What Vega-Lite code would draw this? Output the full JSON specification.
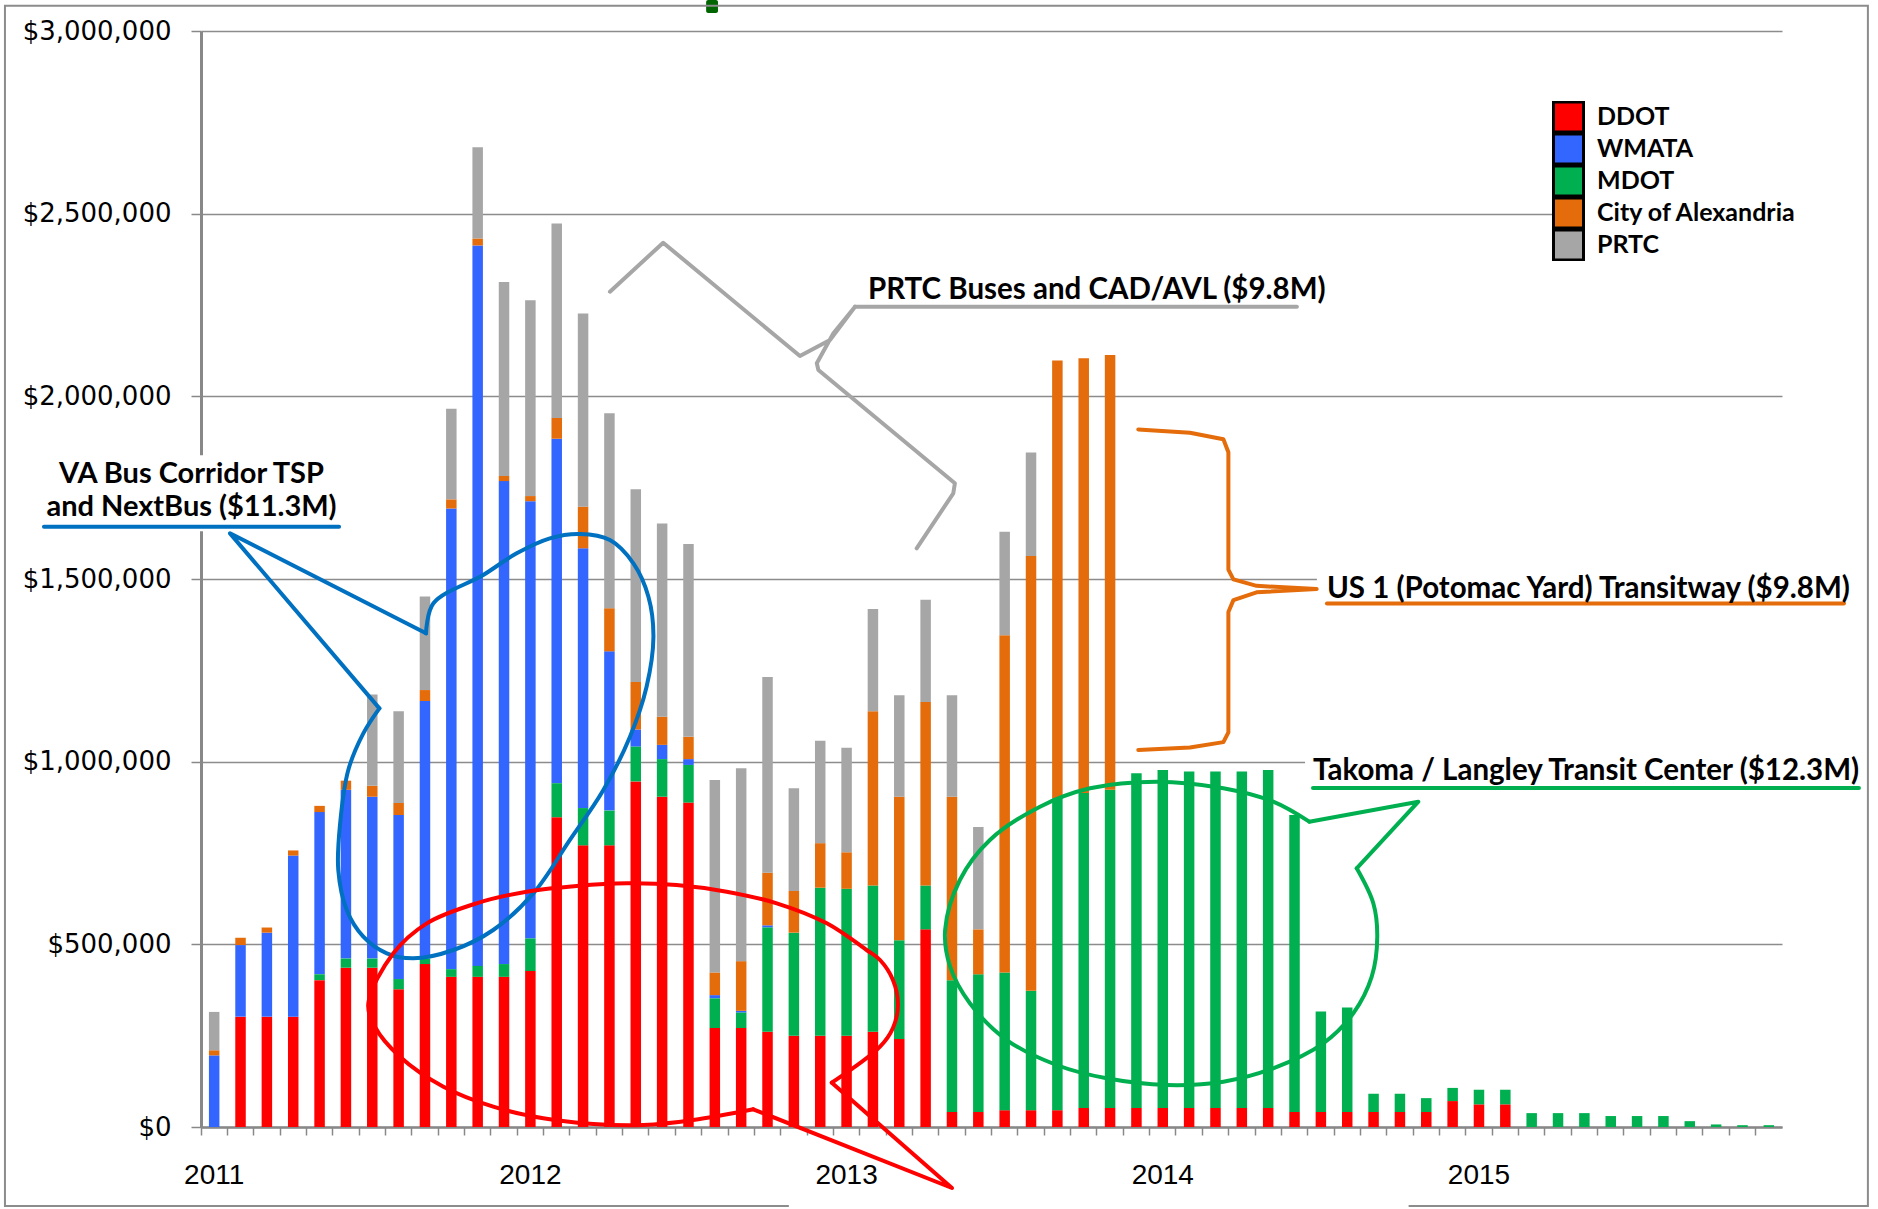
{
"$schema": "https://vega.github.io/schema/vega-lite/v6.json",
"width": 1581, "height": 1096,
"autosize": {"type": "none"},
"padding": {"left": 201, "top": 31, "right": 96, "bottom": 82},
"background": "white",
"config": {"view": {"stroke": null}, "font": "Lato"},
"datasets": {
"bars": [
{"m":"2011-01","DDOT":0,"WMATA":196000,"MDOT":0,"City of Alexandria":14000,"PRTC":105000},
{"m":"2011-02","DDOT":302000,"WMATA":196000,"MDOT":0,"City of Alexandria":20000,"PRTC":0},
{"m":"2011-03","DDOT":302000,"WMATA":230000,"MDOT":0,"City of Alexandria":14000,"PRTC":0},
{"m":"2011-04","DDOT":302000,"WMATA":441000,"MDOT":0,"City of Alexandria":14000,"PRTC":0},
{"m":"2011-05","DDOT":402000,"WMATA":444000,"MDOT":16000,"City of Alexandria":17000,"PRTC":0},
{"m":"2011-06","DDOT":436000,"WMATA":462000,"MDOT":25000,"City of Alexandria":25000,"PRTC":0},
{"m":"2011-07","DDOT":436000,"WMATA":443000,"MDOT":25000,"City of Alexandria":30000,"PRTC":250000},
{"m":"2011-08","DDOT":377000,"WMATA":449000,"MDOT":28000,"City of Alexandria":33000,"PRTC":251000},
{"m":"2011-09","DDOT":446000,"WMATA":705000,"MDOT":15000,"City of Alexandria":30000,"PRTC":256000},
{"m":"2011-10","DDOT":411000,"WMATA":1261000,"MDOT":21000,"City of Alexandria":25000,"PRTC":248000},
{"m":"2011-11","DDOT":411000,"WMATA":1972000,"MDOT":30000,"City of Alexandria":19000,"PRTC":250000},
{"m":"2011-12","DDOT":411000,"WMATA":1322000,"MDOT":35000,"City of Alexandria":14000,"PRTC":531000},
{"m":"2012-01","DDOT":427000,"WMATA":1197000,"MDOT":89000,"City of Alexandria":14000,"PRTC":536000},
{"m":"2012-02","DDOT":848000,"WMATA":943000,"MDOT":93000,"City of Alexandria":57000,"PRTC":532000},
{"m":"2012-03","DDOT":771000,"WMATA":711000,"MDOT":102000,"City of Alexandria":114000,"PRTC":529000},
{"m":"2012-04","DDOT":771000,"WMATA":436000,"MDOT":95000,"City of Alexandria":118000,"PRTC":534000},
{"m":"2012-05","DDOT":946000,"WMATA":47000,"MDOT":95000,"City of Alexandria":130000,"PRTC":528000},
{"m":"2012-06","DDOT":904000,"WMATA":39000,"MDOT":103000,"City of Alexandria":77000,"PRTC":529000},
{"m":"2012-07","DDOT":888000,"WMATA":16000,"MDOT":103000,"City of Alexandria":61000,"PRTC":528000},
{"m":"2012-08","DDOT":271000,"WMATA":9000,"MDOT":81000,"City of Alexandria":62000,"PRTC":527000},
{"m":"2012-09","DDOT":271000,"WMATA":5000,"MDOT":42000,"City of Alexandria":136000,"PRTC":528000},
{"m":"2012-10","DDOT":261000,"WMATA":6000,"MDOT":285000,"City of Alexandria":144000,"PRTC":536000},
{"m":"2012-11","DDOT":250000,"WMATA":0,"MDOT":282000,"City of Alexandria":114000,"PRTC":281000},
{"m":"2012-12","DDOT":250000,"WMATA":0,"MDOT":405000,"City of Alexandria":122000,"PRTC":280000},
{"m":"2013-01","DDOT":250000,"WMATA":0,"MDOT":402000,"City of Alexandria":100000,"PRTC":286000},
{"m":"2013-02","DDOT":261000,"WMATA":0,"MDOT":400000,"City of Alexandria":477000,"PRTC":280000},
{"m":"2013-03","DDOT":241000,"WMATA":0,"MDOT":270000,"City of Alexandria":393000,"PRTC":278000},
{"m":"2013-04","DDOT":541000,"WMATA":0,"MDOT":120000,"City of Alexandria":502000,"PRTC":280000},
{"m":"2013-05","DDOT":41000,"WMATA":0,"MDOT":361000,"City of Alexandria":502000,"PRTC":278000},
{"m":"2013-06","DDOT":41000,"WMATA":0,"MDOT":377000,"City of Alexandria":123000,"PRTC":280000},
{"m":"2013-07","DDOT":46000,"WMATA":0,"MDOT":377000,"City of Alexandria":923000,"PRTC":283000},
{"m":"2013-08","DDOT":46000,"WMATA":0,"MDOT":327000,"City of Alexandria":1190000,"PRTC":283000},
{"m":"2013-09","DDOT":46000,"WMATA":0,"MDOT":854000,"City of Alexandria":1198000,"PRTC":0},
{"m":"2013-10","DDOT":52000,"WMATA":0,"MDOT":862000,"City of Alexandria":1190000,"PRTC":0},
{"m":"2013-11","DDOT":52000,"WMATA":0,"MDOT":871000,"City of Alexandria":1190000,"PRTC":0},
{"m":"2013-12","DDOT":52000,"WMATA":0,"MDOT":916000,"City of Alexandria":0,"PRTC":0},
{"m":"2014-01","DDOT":52000,"WMATA":0,"MDOT":925000,"City of Alexandria":0,"PRTC":0},
{"m":"2014-02","DDOT":52000,"WMATA":0,"MDOT":921000,"City of Alexandria":0,"PRTC":0},
{"m":"2014-03","DDOT":52000,"WMATA":0,"MDOT":921000,"City of Alexandria":0,"PRTC":0},
{"m":"2014-04","DDOT":52000,"WMATA":0,"MDOT":921000,"City of Alexandria":0,"PRTC":0},
{"m":"2014-05","DDOT":52000,"WMATA":0,"MDOT":925000,"City of Alexandria":0,"PRTC":0},
{"m":"2014-06","DDOT":41000,"WMATA":0,"MDOT":813000,"City of Alexandria":0,"PRTC":0},
{"m":"2014-07","DDOT":41000,"WMATA":0,"MDOT":275000,"City of Alexandria":0,"PRTC":0},
{"m":"2014-08","DDOT":41000,"WMATA":0,"MDOT":286000,"City of Alexandria":0,"PRTC":0},
{"m":"2014-09","DDOT":41000,"WMATA":0,"MDOT":50000,"City of Alexandria":0,"PRTC":0},
{"m":"2014-10","DDOT":41000,"WMATA":0,"MDOT":50000,"City of Alexandria":0,"PRTC":0},
{"m":"2014-11","DDOT":41000,"WMATA":0,"MDOT":38000,"City of Alexandria":0,"PRTC":0},
{"m":"2014-12","DDOT":71000,"WMATA":0,"MDOT":36000,"City of Alexandria":0,"PRTC":0},
{"m":"2015-01","DDOT":62000,"WMATA":0,"MDOT":40000,"City of Alexandria":0,"PRTC":0},
{"m":"2015-02","DDOT":62000,"WMATA":0,"MDOT":40000,"City of Alexandria":0,"PRTC":0},
{"m":"2015-03","DDOT":0,"WMATA":0,"MDOT":38000,"City of Alexandria":0,"PRTC":0},
{"m":"2015-04","DDOT":0,"WMATA":0,"MDOT":38000,"City of Alexandria":0,"PRTC":0},
{"m":"2015-05","DDOT":0,"WMATA":0,"MDOT":38000,"City of Alexandria":0,"PRTC":0},
{"m":"2015-06","DDOT":0,"WMATA":0,"MDOT":30000,"City of Alexandria":0,"PRTC":0},
{"m":"2015-07","DDOT":0,"WMATA":0,"MDOT":30000,"City of Alexandria":0,"PRTC":0},
{"m":"2015-08","DDOT":0,"WMATA":0,"MDOT":30000,"City of Alexandria":0,"PRTC":0},
{"m":"2015-09","DDOT":0,"WMATA":0,"MDOT":16000,"City of Alexandria":0,"PRTC":0},
{"m":"2015-10","DDOT":0,"WMATA":0,"MDOT":7000,"City of Alexandria":0,"PRTC":0},
{"m":"2015-11","DDOT":0,"WMATA":0,"MDOT":5000,"City of Alexandria":0,"PRTC":0},
{"m":"2015-12","DDOT":0,"WMATA":0,"MDOT":5000,"City of Alexandria":0,"PRTC":0}
],
"boxes": [
{"name":"VA","u1":-6.26,"u2":5.54,"v1":1631000,"v2":1839000},
{"name":"US1","u1":42.35,"u2":63.2,"v1":1420600,"v2":1524500},
{"name":"Takoma","u1":41.9,"u2":63.2,"v1":914200,"v2":1026400}
],
"marker": [
{"u1":19.17,"u2":19.62,"v1":3049200,"v2":3084800}
],
"curves": [
{"s":"VA callout","i":0,"u":8.54,"v":1351300},
{"s":"VA callout","i":1,"u":8.82,"v":1433400},
{"s":"VA callout","i":2,"u":10.71,"v":1510900},
{"s":"VA callout","i":3,"u":11.98,"v":1570300},
{"s":"VA callout","i":4,"u":13.24,"v":1611400},
{"s":"VA callout","i":5,"u":14.38,"v":1623200},
{"s":"VA callout","i":6,"u":15.52,"v":1606700},
{"s":"VA callout","i":7,"u":16.41,"v":1542900},
{"s":"VA callout","i":8,"u":16.98,"v":1451600},
{"s":"VA callout","i":9,"u":17.17,"v":1342100},
{"s":"VA callout","i":10,"u":16.91,"v":1205200},
{"s":"VA callout","i":11,"u":16.28,"v":1068400},
{"s":"VA callout","i":12,"u":15.27,"v":922400},
{"s":"VA callout","i":13,"u":14.00,"v":785600},
{"s":"VA callout","i":14,"u":12.61,"v":639600},
{"s":"VA callout","i":15,"u":11.09,"v":539200},
{"s":"VA callout","i":16,"u":9.58,"v":484500},
{"s":"VA callout","i":17,"u":8.06,"v":461700},
{"s":"VA callout","i":18,"u":7.05,"v":475400},
{"s":"VA callout","i":19,"u":6.16,"v":521000},
{"s":"VA callout","i":20,"u":5.53,"v":594000},
{"s":"VA callout","i":21,"u":5.21,"v":703500},
{"s":"VA callout","i":22,"u":5.28,"v":831200},
{"s":"VA callout","i":23,"u":5.59,"v":977200},
{"s":"VA callout","i":24,"u":6.16,"v":1077600},
{"s":"VA callout","i":25,"u":6.77,"v":1146000},
{"s":"DDOT callout","i":0,"u":23.94,"v":121300},
{"s":"DDOT callout","i":1,"u":25.77,"v":219800},
{"s":"DDOT callout","i":2,"u":26.26,"v":271000},
{"s":"DDOT callout","i":3,"u":26.45,"v":333900},
{"s":"DDOT callout","i":4,"u":26.26,"v":402400},
{"s":"DDOT callout","i":5,"u":25.77,"v":457100},
{"s":"DDOT callout","i":6,"u":25.26,"v":484500},
{"s":"DDOT callout","i":7,"u":23.75,"v":557500},
{"s":"DDOT callout","i":8,"u":21.85,"v":612300},
{"s":"DDOT callout","i":9,"u":19.95,"v":644100},
{"s":"DDOT callout","i":10,"u":18.05,"v":662400},
{"s":"DDOT callout","i":11,"u":16.16,"v":667000},
{"s":"DDOT callout","i":12,"u":14.26,"v":659700},
{"s":"DDOT callout","i":13,"u":12.36,"v":644100},
{"s":"DDOT callout","i":14,"u":10.46,"v":612300},
{"s":"DDOT callout","i":15,"u":8.57,"v":557500},
{"s":"DDOT callout","i":16,"u":7.30,"v":475400},
{"s":"DDOT callout","i":17,"u":6.35,"v":338600},
{"s":"DDOT callout","i":18,"u":6.60,"v":274500},
{"s":"DDOT callout","i":19,"u":7.55,"v":192400},
{"s":"DDOT callout","i":20,"u":9.20,"v":110300},
{"s":"DDOT callout","i":21,"u":11.09,"v":55600},
{"s":"DDOT callout","i":22,"u":12.99,"v":23800},
{"s":"DDOT callout","i":23,"u":14.89,"v":8200},
{"s":"DDOT callout","i":24,"u":16.79,"v":5500},
{"s":"DDOT callout","i":25,"u":18.68,"v":19200},
{"s":"DDOT callout","i":26,"u":20.96,"v":48400},
{"s":"MDOT callout","i":0,"u":43.86,"v":708100},
{"s":"MDOT callout","i":1,"u":44.49,"v":612300},
{"s":"MDOT callout","i":2,"u":44.64,"v":520900},
{"s":"MDOT callout","i":3,"u":44.43,"v":411400},
{"s":"MDOT callout","i":4,"u":43.73,"v":311200},
{"s":"MDOT callout","i":5,"u":42.59,"v":229100},
{"s":"MDOT callout","i":6,"u":40.69,"v":160700},
{"s":"MDOT callout","i":7,"u":38.80,"v":124000},
{"s":"MDOT callout","i":8,"u":36.65,"v":115000},
{"s":"MDOT callout","i":9,"u":34.37,"v":133300},
{"s":"MDOT callout","i":10,"u":32.47,"v":169700},
{"s":"MDOT callout","i":11,"u":30.58,"v":238100},
{"s":"MDOT callout","i":12,"u":29.18,"v":338600},
{"s":"MDOT callout","i":13,"u":28.43,"v":438800},
{"s":"MDOT callout","i":14,"u":28.24,"v":539200},
{"s":"MDOT callout","i":15,"u":28.80,"v":676100},
{"s":"MDOT callout","i":16,"u":29.94,"v":785600},
{"s":"MDOT callout","i":17,"u":31.84,"v":876700},
{"s":"MDOT callout","i":18,"u":33.74,"v":927100},
{"s":"MDOT callout","i":19,"u":36.27,"v":945200},
{"s":"MDOT callout","i":20,"u":38.80,"v":927100},
{"s":"MDOT callout","i":21,"u":40.69,"v":890400},
{"s":"MDOT callout","i":22,"u":42.06,"v":835700}
],
"straight": [
{"s":"VA pointer","i":0,"u":6.77,"v":1146000},
{"s":"VA pointer","i":1,"u":1.10,"v":1625000},
{"s":"VA pointer","i":2,"u":8.54,"v":1351300},
{"s":"VA underline","i":0,"u":-5.96,"v":1643000},
{"s":"VA underline","i":1,"u":5.24,"v":1643000},
{"s":"DDOT pointer","i":0,"u":20.96,"v":48400},
{"s":"DDOT pointer","i":1,"u":28.50,"v":-167000},
{"s":"DDOT pointer","i":2,"u":23.94,"v":121300},
{"s":"MDOT pointer","i":0,"u":42.06,"v":835700},
{"s":"MDOT pointer","i":1,"u":46.20,"v":890400},
{"s":"MDOT pointer","i":2,"u":43.86,"v":708100},
{"s":"MDOT underline","i":0,"u":42.2,"v":927900},
{"s":"MDOT underline","i":1,"u":62.92,"v":927900},
{"s":"PRTC brace","i":0,"u":15.52,"v":2286300},
{"s":"PRTC brace","i":1,"u":17.54,"v":2420500},
{"s":"PRTC brace","i":2,"u":22.73,"v":2110400},
{"s":"PRTC brace","i":3,"u":23.87,"v":2154200},
{"s":"PRTC brace","i":4,"u":24.82,"v":2245300},
{"s":"PRTC brace","i":5,"u":24.00,"v":2172500},
{"s":"PRTC brace","i":6,"u":23.37,"v":2090400},
{"s":"PRTC brace","i":7,"u":23.43,"v":2072100},
{"s":"PRTC brace","i":8,"u":28.61,"v":1761900},
{"s":"PRTC brace","i":9,"u":28.55,"v":1734600},
{"s":"PRTC brace","i":10,"u":27.16,"v":1584000},
{"s":"PRTC underline","i":0,"u":24.82,"v":2245300},
{"s":"PRTC underline","i":1,"u":41.59,"v":2245300},
{"s":"Alexandria brace","i":0,"u":35.57,"v":1909400},
{"s":"Alexandria brace","i":1,"u":37.53,"v":1900400},
{"s":"Alexandria brace","i":2,"u":38.80,"v":1882600},
{"s":"Alexandria brace","i":3,"u":38.99,"v":1847000},
{"s":"Alexandria brace","i":4,"u":38.99,"v":1525900},
{"s":"Alexandria brace","i":5,"u":39.18,"v":1499100},
{"s":"Alexandria brace","i":6,"u":40.06,"v":1481300},
{"s":"Alexandria brace","i":7,"u":42.34,"v":1472500},
{"s":"Alexandria brace","i":8,"u":40.06,"v":1463500},
{"s":"Alexandria brace","i":9,"u":39.18,"v":1442200},
{"s":"Alexandria brace","i":10,"u":38.99,"v":1409900},
{"s":"Alexandria brace","i":11,"u":38.99,"v":1080100},
{"s":"Alexandria brace","i":12,"u":38.80,"v":1053500},
{"s":"Alexandria brace","i":13,"u":37.53,"v":1039000},
{"s":"Alexandria brace","i":14,"u":35.57,"v":1031900},
{"s":"Alexandria underline","i":0,"u":42.73,"v":1433200},
{"s":"Alexandria underline","i":1,"u":62.35,"v":1433200}
],
"frame": [
{"i":0,"u":22.31,"v":-216200},
{"i":1,"u":-7.44,"v":-216200},
{"i":2,"u":-7.44,"v":3069200},
{"i":3,"u":63.26,"v":3069200},
{"i":4,"u":63.26,"v":-216200},
{"i":5,"u":45.83,"v":-216200}
],
"labelsCenter": [
{"t":"VA Bus Corridor TSP","u":-0.36,"v":1787400},
{"t":"and NextBus ($11.3M)","u":-0.36,"v":1697100}
],
"labelsLeft": [
{"t":"PRTC Buses and CAD/AVL ($9.8M)","u":25.31,"v":2291000},
{"t":"US 1 (Potomac Yard) Transitway ($9.8M)","u":42.73,"v":1472500},
{"t":"Takoma / Langley Transit Center ($12.3M)","u":42.2,"v":974400}
]
},
"layer": [
{
"data": {"name": "bars"},
"transform": [
{"fold": ["DDOT","WMATA","MDOT","City of Alexandria","PRTC"], "as": ["agency","amount"]},
{"calculate": "indexof(['DDOT','MDOT','WMATA','City of Alexandria','PRTC'], datum.agency)", "as": "k"}
],
"mark": {"type": "bar", "width": 10.5},
"encoding": {
"x": {"field": "m", "type": "ordinal", "scale": {"paddingInner": 0, "paddingOuter": 0},
"axis": {"title": null, "bandPosition": 0, "labelAngle": 0, "labelOverlap": false,
"labelExpr": "substring(datum.value, 5, 7) == '01' ? substring(datum.value, 0, 4) : ''",
"labelFont": "Liberation Sans", "labelFontSize": 28, "labelColor": "#000", "labelDx": 13.2, "labelPadding": 26,
"tickSize": 8, "tickColor": "#888", "tickWidth": 1.5, "domainColor": "#888", "domainWidth": 2.5, "grid": false}},
"y": {"field": "amount", "type": "quantitative", "stack": "zero",
"scale": {"domain": [0, 3000000], "nice": false},
"axis": {"title": null, "values": [0,500000,1000000,1500000,2000000,2500000,3000000], "format": "$,.0f",
"labelFont": "DejaVu Sans", "labelFontSize": 26, "labelColor": "#000", "labelPadding": 20,
"tickSize": 10, "tickColor": "#888", "tickWidth": 1.5, "domainColor": "#888", "domainWidth": 3,
"grid": true, "gridColor": "#8c8c8c", "gridWidth": 1.3}},
"color": {"field": "agency", "type": "nominal",
"scale": {"domain": ["DDOT","WMATA","MDOT","City of Alexandria","PRTC"], "range": ["#FF0000","#3366FF","#00B050","#E46C0A","#A6A6A6"]},
"legend": {"title": null, "orient": "none", "legendX": 1351, "legendY": 70, "symbolType": "square", "symbolSize": 900,
"symbolStrokeColor": "#000", "symbolStrokeWidth": 3, "labelFont": "Lato", "labelFontWeight": "bold", "labelFontSize": 25,
"labelColor": "#000", "labelOffset": 12, "rowPadding": 0, "clipHeight": 32, "fillColor": "white", "padding": 0, "labelLimit": 400,
"encode": {"symbols": {"update": {
"fill": {"signal": "datum.value === 'WMATA' ? '#558ED5' : scale('color', datum.value)"},
"stroke": {"value": "#000"}, "strokeWidth": {"value": 3}}}}}},
"order": {"field": "k", "type": "quantitative", "sort": "ascending"}
}
},
{
"data": {"name": "boxes"},
"mark": {"type": "rect", "fill": "white"},
"encoding": {
"x": {"field": "u1", "type": "quantitative", "scale": {"domain": [0, 60], "nice": false, "zero": false}, "axis": null},
"x2": {"field": "u2"},
"y": {"field": "v1", "type": "quantitative", "scale": {"domain": [0, 3000000], "nice": false, "zero": false}, "axis": null},
"y2": {"field": "v2"}
}
},
{
"data": {"name": "marker"},
"mark": {"type": "rect", "fill": "#006400", "cornerRadius": 2},
"encoding": {
"x": {"field": "u1", "type": "quantitative", "scale": {"domain": [0, 60], "nice": false, "zero": false}, "axis": null},
"x2": {"field": "u2"},
"y": {"field": "v1", "type": "quantitative", "scale": {"domain": [0, 3000000], "nice": false, "zero": false}, "axis": null},
"y2": {"field": "v2"}
}
},
{
"data": {"name": "curves"},
"mark": {"type": "line", "strokeWidth": 4, "interpolate": "catmull-rom", "strokeJoin": "round", "strokeCap": "round"},
"encoding": {
"x": {"field": "u", "type": "quantitative", "scale": {"domain": [0, 60], "nice": false, "zero": false}, "axis": null},
"y": {"field": "v", "type": "quantitative", "scale": {"domain": [0, 3000000], "nice": false, "zero": false}, "axis": null},
"order": {"field": "i", "type": "quantitative"},
"stroke": {"field": "s", "type": "nominal", "legend": null,
"scale": {"domain": ["VA callout","DDOT callout","MDOT callout","VA pointer","VA underline","DDOT pointer","MDOT pointer","MDOT underline","PRTC brace","PRTC underline","Alexandria brace","Alexandria underline"],
"range": ["#0070C0","#FF0000","#00B050","#0070C0","#0070C0","#FF0000","#00B050","#00B050","#A6A6A6","#A6A6A6","#E46C0A","#E46C0A"]}}
}
},
{
"data": {"name": "straight"},
"mark": {"type": "line", "strokeWidth": 4, "strokeJoin": "round", "strokeCap": "round"},
"encoding": {
"x": {"field": "u", "type": "quantitative", "scale": {"domain": [0, 60], "nice": false, "zero": false}, "axis": null},
"y": {"field": "v", "type": "quantitative", "scale": {"domain": [0, 3000000], "nice": false, "zero": false}, "axis": null},
"order": {"field": "i", "type": "quantitative"},
"stroke": {"field": "s", "type": "nominal", "legend": null,
"scale": {"domain": ["VA callout","DDOT callout","MDOT callout","VA pointer","VA underline","DDOT pointer","MDOT pointer","MDOT underline","PRTC brace","PRTC underline","Alexandria brace","Alexandria underline"],
"range": ["#0070C0","#FF0000","#00B050","#0070C0","#0070C0","#FF0000","#00B050","#00B050","#A6A6A6","#A6A6A6","#E46C0A","#E46C0A"]}}
}
},
{
"data": {"name": "frame"},
"mark": {"type": "line", "strokeWidth": 2, "color": "#8c8c8c"},
"encoding": {
"x": {"field": "u", "type": "quantitative", "scale": {"domain": [0, 60], "nice": false, "zero": false}, "axis": null},
"y": {"field": "v", "type": "quantitative", "scale": {"domain": [0, 3000000], "nice": false, "zero": false}, "axis": null},
"order": {"field": "i", "type": "quantitative"}
}
},
{
"data": {"name": "labelsCenter"},
"mark": {"type": "text", "font": "Lato", "fontWeight": "bold", "fontSize": 29, "align": "center", "baseline": "middle", "color": "#000"},
"encoding": {
"x": {"field": "u", "type": "quantitative", "scale": {"domain": [0, 60], "nice": false, "zero": false}, "axis": null},
"y": {"field": "v", "type": "quantitative", "scale": {"domain": [0, 3000000], "nice": false, "zero": false}, "axis": null},
"text": {"field": "t"}
}
},
{
"data": {"name": "labelsLeft"},
"mark": {"type": "text", "font": "Lato", "fontWeight": "bold", "fontSize": 29.5, "align": "left", "baseline": "middle", "color": "#000"},
"encoding": {
"x": {"field": "u", "type": "quantitative", "scale": {"domain": [0, 60], "nice": false, "zero": false}, "axis": null},
"y": {"field": "v", "type": "quantitative", "scale": {"domain": [0, 3000000], "nice": false, "zero": false}, "axis": null},
"text": {"field": "t"}
}
}
],
"resolve": {"scale": {"x": "independent", "y": "independent"}, "axis": {"x": "independent", "y": "independent"}}
}
